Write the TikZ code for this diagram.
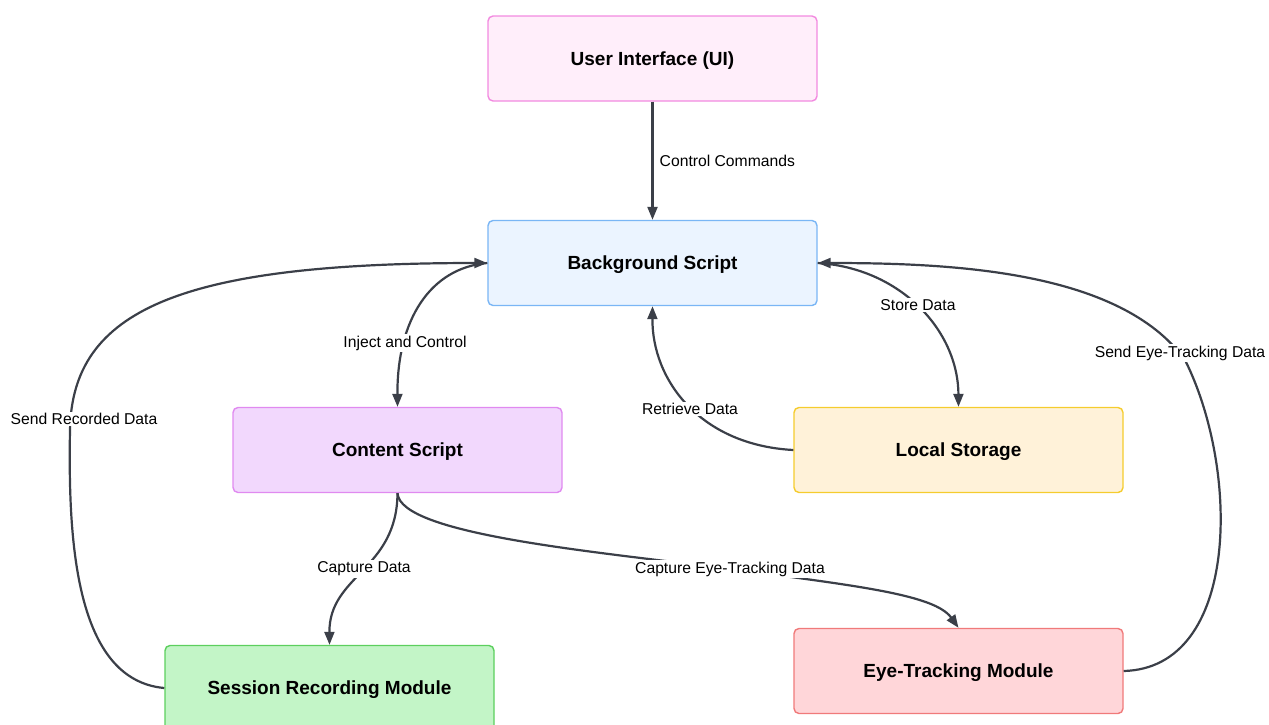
\documentclass[tikz,border=0pt]{standalone}
\usepackage{fontspec}
\setmainfont{Liberation Sans}
\usetikzlibrary{arrows.meta}
\definecolor{edge}{HTML}{3B3F48}
\definecolor{uiline}{HTML}{F28AE0}
\definecolor{uifill}{HTML}{FFEEFA}
\definecolor{bgline}{HTML}{7AB6F5}
\definecolor{bgfill}{HTML}{EBF4FF}
\definecolor{csline}{HTML}{E08AF0}
\definecolor{csfill}{HTML}{F2D8FD}
\definecolor{lsline}{HTML}{F5CC2E}
\definecolor{lsfill}{HTML}{FFF2D9}
\definecolor{srline}{HTML}{5CCF5E}
\definecolor{srfill}{HTML}{C3F5C7}
\definecolor{etline}{HTML}{F07A7A}
\definecolor{etfill}{HTML}{FFD6D9}
\tikzset{
  box/.style={draw, line width=1.4pt, rounded corners=5pt, minimum width=329pt,
    minimum height=85pt, text height=16pt, text depth=2.3pt,
    font=\fontsize{19}{21}\selectfont\bfseries, text=black},
  link/.style={draw=edge, line width=2.2pt, -{Triangle[length=13pt,width=10pt]}},
  lbl/.style={fill=white, inner sep=1.5pt, font=\fontsize{15.7}{17}\selectfont, text=black},
}
\begin{document}
\begin{tikzpicture}[x=1pt,y=-1pt]
\useasboundingbox (0,0) rectangle (1269,724);
\clip (0,0) rectangle (1269,724);

% component boxes
\node[box, draw=uiline, fill=uifill] (ui) at (652.5,58.5) {User Interface (UI)};
\node[box, draw=bgline, fill=bgfill] (bg) at (652.5,263) {Background Script};
\node[box, draw=csline, fill=csfill] (cs) at (397.5,450) {Content Script};
\node[box, draw=lsline, fill=lsfill] (ls) at (958.5,450) {Local Storage};
\node[box, draw=srline, fill=srfill] (sr) at (329.5,688) {Session Recording Module};
\node[box, draw=etline, fill=etfill] (et) at (958.5,671) {Eye-Tracking Module};

% UI -> background
\draw[link] (ui.south) -- (bg.north);
\node[lbl, anchor=west] (lcc) at (658,161) {Control Commands};

% background -> content script
\draw[link] (bg.west) .. controls (430,268) and (397,320) .. (cs.north);
\node[lbl] (lic) at (405,343) {Inject and Control};

% local storage -> background
\draw[link] (ls.west) .. controls (700,445) and (652,380) .. (bg.south);
\node[lbl] (lrd) at (690,409) {Retrieve Data};

% background -> local storage
\draw[link] (bg.east) .. controls (900,268) and (958,330) .. (ls.north);
\node[lbl] (lsd) at (918,305) {Store Data};

% content script -> session recording
\draw[link] (cs.south) .. controls (397,570) and (329,575) .. (sr.north);
\node[lbl] (lcd) at (364,569) {Capture Data};

% content script -> eye tracking
\draw[link] (cs.south) .. controls (400,535) and (600,552) .. (730,569)
  .. controls (860,586) and (935,595) .. (et.north);
\node[lbl] (lce) at (730,569) {Capture Eye-Tracking Data};

% session recording -> background
\draw[link] (sr.west) .. controls (75,680) and (68,540) .. (70,430)
  .. controls (72,310) and (180,263) .. (bg.west);
\node[lbl] (lsr) at (84,419) {Send Recorded Data};

% eye tracking -> background
\draw[link] (et.east) .. controls (1240,668) and (1240,470) .. (1185,360)
  .. controls (1120,270) and (950,263) .. (bg.east);
\node[lbl] (lse) at (1180,353) {Send Eye-Tracking Data};
\end{tikzpicture}
\end{document}
